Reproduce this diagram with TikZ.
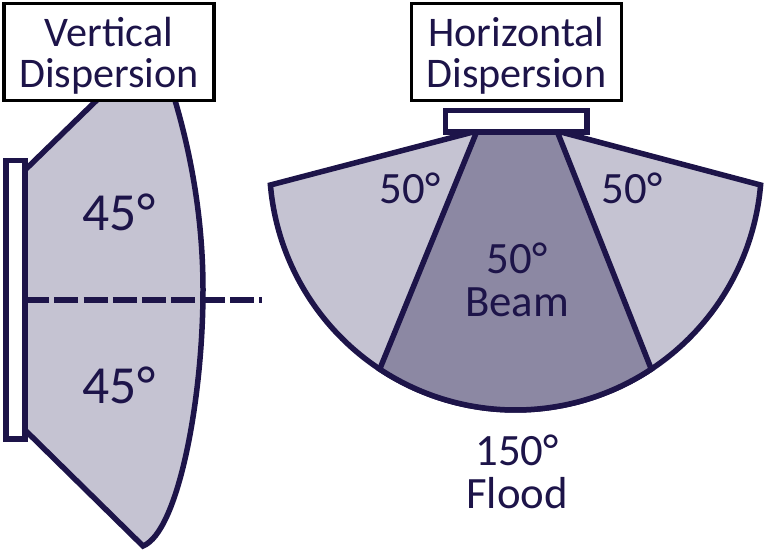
\documentclass[tikz,border=0pt]{standalone}
\usepackage{fontspec}
\setmainfont{Carlito}
\definecolor{ink}{HTML}{1D1449}
\definecolor{flood}{HTML}{C5C3D2}
\definecolor{beam}{HTML}{8C88A3}
\newcommand{\titlestrut}{\rule{0pt}{21pt}}
\begin{document}
\begin{tikzpicture}[x=0.02cm, y=-0.02cm, line join=miter, font=\fontsize{25.5}{24.5}\selectfont, text=ink]
				\tikzset{every node/.style={align=center},
					edge/.style={draw=ink, line width=0.11cm},
					title/.style={draw=black, fill=white, line width=0.07cm, minimum width=4.2cm, minimum height=1.94cm, inner sep=0pt, font=\fontsize{24}{23.5}\selectfont},
					big/.style={font=\fontsize{30.5}{30}\selectfont}}
				\def\cx{515.5}\def\cy{164}\def\rr{246}
				\useasboundingbox (0,0) rectangle (766,550);
				%Vertical side
				\draw[edge, fill=flood] (25,170)--(100,97)--(174,97) .. controls (193,160) and (203,225) .. (203,290) .. controls (203,400) and (178,532) .. (143,546)--(25,430)--cycle;
				\draw[edge, fill=white] (6,160.5) rectangle (25,439);
				\coordinate (lineA) at (25,300);
				\coordinate (lineB) at (262,300);
				\draw[edge, dash pattern=on 0.48cm off 0.106cm] (lineA)--(lineB);
				%Horizontal side
				\draw[edge, fill=flood, domain=4.9:175.1, samples=80, smooth] (477,131)--plot ({\cx-\rr*cos(\x)},{\cy+\rr*sin(\x)})--(557,131)--cycle;
				\draw[edge, fill=beam, domain=56.5:123.5, samples=40, smooth] (477,131)--plot ({\cx-\rr*cos(\x)},{\cy+\rr*sin(\x)})--(557,131)--cycle;
				\draw[edge, fill=white] (445.5,110.5) rectangle (587,132);
				%Labels
				\node[title] (vert) at (109,52) {\titlestrut Vertical\\Dispersion};
				\node[title] (horz) at (516.5,52) {\titlestrut Horizontal\\Dispersion};
				\node[big] (upper) at (119,212) {45°};
				\node[big] (lower) at (119,385) {45°};
				\node (left) at (410,188) {50°};
				\node (right) at (632,188) {50°};
				\node (beamtxt) at (517,280) {50°\\Beam};
				\node (floodtxt) at (517,472) {150°\\Flood};
			\end{tikzpicture}
\end{document}
